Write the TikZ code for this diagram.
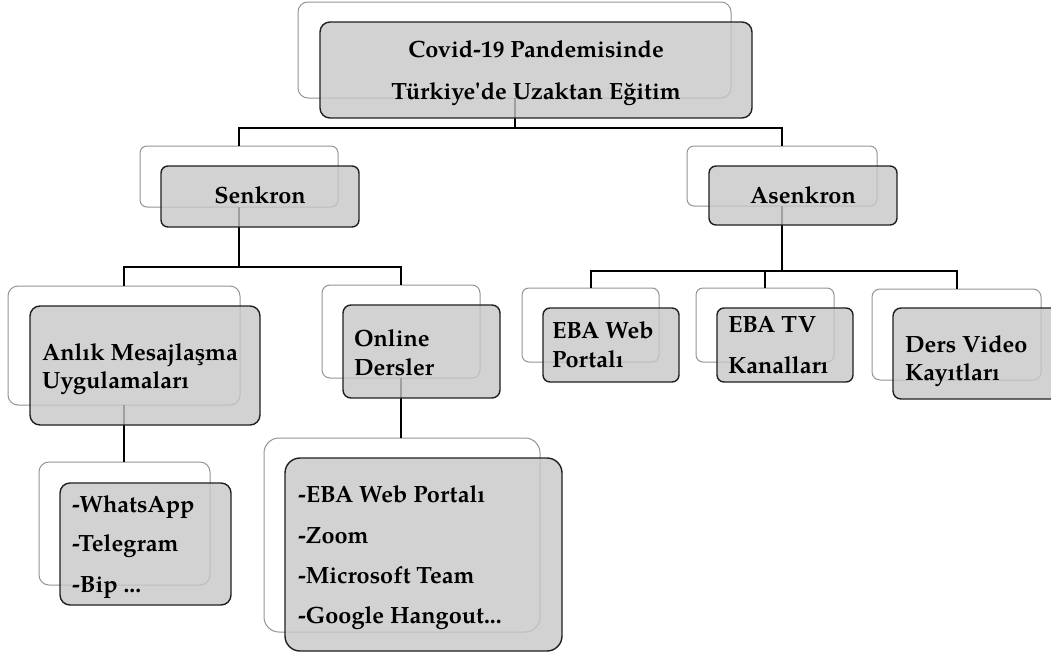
\documentclass[tikz,border=0pt]{standalone}
\usepackage{fontspec}
\setmainfont{TeX Gyre Pagella}
\begin{document}
\begin{tikzpicture}[x=1pt,y=-1pt,
  backbox/.style={draw=black!42, line width=1pt, fill=white, inner sep=0pt, outer sep=0pt, anchor=north west},
  frontbox/.style={draw=black!88, line width=1.4pt, fill=black!22, fill opacity=0.8, inner sep=0pt, outer sep=0pt, anchor=north west},
  conn/.style={line width=2pt, black},
  lbl/.style={font=\fontsize{23.5}{27}\selectfont\bfseries, inner sep=0pt, outer sep=0pt, text=black}]
\useasboundingbox (0,0) rectangle (1051,656);
\clip (0,0) rectangle (1051,656);
\fill[white] (0,0) rectangle (1051,656);
% back boxes
\newcommand{\backbx}[6]{\node[backbox, rounded corners=#6pt, minimum width=#4pt, minimum height=#5pt] (#1b) at (#2,#3) {};}
\newcommand{\frontbx}[6]{\node[frontbox, rounded corners=#6pt, minimum width=#4pt, minimum height=#5pt] (#1f) at (#2,#3) {};}
\backbx{top}{298}{2}{433}{96}{10}
\backbx{sen}{140}{146}{198}{61}{7}
\backbx{as}{687}{146}{190}{60}{7}
\backbx{an}{8}{286}{232}{119}{10}
\backbx{on}{322}{285}{158}{93}{8}
\backbx{wh}{39}{462}{171}{123}{10}
\backbx{ls}{264}{438}{276}{194}{15}
\backbx{ew}{522}{288}{137}{74}{7}
\backbx{et}{696}{288}{138}{74}{7}
\backbx{dv}{872}{289}{169}{91}{8}
% connectors
\coordinate (tj) at ([yshift=-30pt]topb.south);
\coordinate (sj) at ([yshift=-60pt]senb.south);
\coordinate (aj) at ([yshift=-65pt]asb.south);
\draw[conn] (topb.south) -- (tj);
\draw[conn] (senb.north) |- (tj) -| (asb.north);
\draw[conn] (senb.south) -- (sj);
\draw[conn] (anb.north) |- (sj) -| (onb.north);
\draw[conn] (asb.south) -- (aj);
\draw[conn] (ewb.north) |- (aj) -| (dvb.north);
\draw[conn] (etb.north) -- (etb.north |- aj);
\draw[conn] (anb.south) -- (anb.south |- whb.north);
\draw[conn] (onb.south) -- (onb.south |- lsb.north);
% front boxes
\frontbx{top}{320}{22}{432}{96}{10}
\frontbx{sen}{161}{166}{198}{61}{7}
\frontbx{as}{709}{166}{188}{59}{7}
\frontbx{an}{30}{306}{230}{119}{10}
\frontbx{on}{343}{305}{157}{93}{8}
\frontbx{wh}{60}{483}{171}{122}{10}
\frontbx{ls}{285}{458}{277}{193}{15}
\frontbx{ew}{543}{308}{136}{74}{7}
\frontbx{et}{717}{308}{136}{74}{7}
\frontbx{dv}{893}{308}{169}{91}{8}
% texts
\node[lbl, anchor=base] (t1) at (536,57) {Covid-19 Pandemisinde};
\node[lbl, anchor=base] (t2) at (536,99) {Türkiye\textquotesingle{}de Uzaktan Eğitim};
\node[lbl, anchor=base] (s1) at (260,203) {Senkron};
\node[lbl, anchor=base] (a1) at (803,203) {Asenkron};
\node[lbl, anchor=base west] (n1) at (42,360) {Anlık Mesajlaşma};
\node[lbl, anchor=base west] (n2) at (42,388) {Uygulamaları};
\node[lbl, anchor=base west] (o1) at (354,346) {Online};
\node[lbl, anchor=base west] (o2) at (354,375) {Dersler};
\node[lbl, anchor=base west] (w1) at (72,512) {-WhatsApp};
\node[lbl, anchor=base west] (w2) at (72,551) {-Telegram};
\node[lbl, anchor=base west] (w3) at (72,592) {-Bip ...};
\node[lbl, anchor=base west] (l1) at (298,502) {-EBA Web Portalı};
\node[lbl, anchor=base west] (l2) at (298,543) {-Zoom};
\node[lbl, anchor=base west] (l3) at (298,583) {-Microsoft Team};
\node[lbl, anchor=base west] (l4) at (298,623) {-Google Hangout...};
\node[lbl, anchor=base west] (e1) at (552,338) {EBA Web};
\node[lbl, anchor=base west] (e2) at (552,367) {Portalı};
\node[lbl, anchor=base west] (v1) at (728,332) {EBA TV};
\node[lbl, anchor=base west] (v2) at (728,373) {Kanalları};
\node[lbl, anchor=base west] (d1) at (905,352) {Ders Video};
\node[lbl, anchor=base west] (d2) at (905,380) {Kayıtları};
\end{tikzpicture}
\end{document}
